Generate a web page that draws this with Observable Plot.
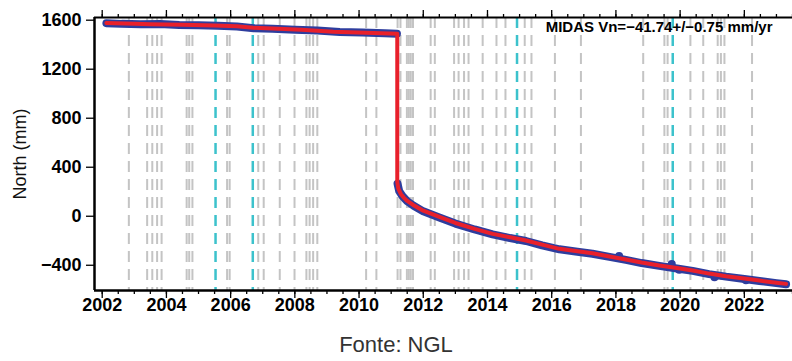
<!DOCTYPE html>
<html>
<head>
<meta charset="utf-8">
<script src="https://cdn.jsdelivr.net/npm/d3@7"></script>
<script src="https://cdn.jsdelivr.net/npm/@observablehq/plot@0.6"></script>
<style>
  html, body { margin: 0; padding: 0; background: #fff; }
  #chart { width: 792px; }
  #caption { margin-top: 14px; text-align: center; font-family: "Liberation Sans", Arial, sans-serif; font-size: 22px; color: #333; line-height: normal; width: 792px; }
</style>
</head>
<body>
<div id="chart"></div>
<div id="caption">Fonte: NGL</div>
<script>
// ---- data ----
const xDomain = [2001.76, 2023.5];
const yDomain = [-606, 1622];
const yTicks = [-400, 0, 400, 800, 1200, 1600];
const xMajorTicks = [2002, 2004, 2006, 2008, 2010, 2012, 2014, 2016, 2018, 2020, 2022];
const xMinorTicks = d3.range(2002, 2023.6, 0.5);

const yLabel = "North (mm)";
const midasLabel = "MIDAS Vn=\u221241.74+/\u22120.75 mm/yr";
const captionText = "Fonte: NGL";

// gray dashed lines (equipment / earthquake events)
const grayEvents = [2002.83, 2003.40, 2003.56, 2003.71, 2003.85, 2004.63, 2004.71, 2004.81,
  2005.89, 2005.97, 2006.86, 2007.03, 2007.53, 2007.99, 2008.36, 2008.46, 2008.57, 2008.70,
  2010.22, 2010.54, 2011.20, 2011.29, 2011.49, 2011.55, 2011.61, 2011.68, 2012.23, 2012.36,
  2012.96, 2013.10, 2013.27, 2013.41, 2013.85, 2014.28, 2014.56, 2015.16, 2015.37, 2016.10,
  2016.91, 2018.85, 2019.51, 2019.61, 2020.32, 2020.72, 2021.17, 2021.27, 2021.38, 2022.24];
// cyan dashed lines
const cyanEvents = [2005.53, 2006.69, 2014.92, 2019.77];

// observed daily positions (blue) - before and after the jump
const obsPreT = [2002.13, 2002.6, 2003.2, 2003.8, 2004.4, 2005.0, 2005.6, 2006.2, 2006.72, 2007.3, 2008.0, 2008.7, 2009.4, 2010.1, 2010.8, 2011.18];
const obsPreN = [1576, 1570, 1566, 1569, 1561, 1558, 1554, 1548, 1535, 1530, 1522, 1515, 1503, 1500, 1494, 1490];
const obsPostT = [2011.2, 2011.25, 2011.35, 2011.5, 2011.7, 2012.0, 2012.5, 2013.0, 2013.6, 2014.16, 2014.7, 2015.2, 2015.7, 2016.24, 2016.8, 2017.27, 2017.8, 2018.31, 2018.8, 2019.35, 2019.9, 2020.39, 2020.9, 2021.43, 2022.0, 2022.47, 2023.0, 2023.3];
const obsPostN = [265, 205, 165, 122, 86, 40, -10, -60, -108, -148, -178, -202, -238, -270, -290, -306, -332, -356, -382, -405, -426, -446, -472, -493, -512, -528, -546, -555];
const outT = [2018.1, 2019.74, 2019.97, 2021.07, 2022.05];
const outN = [-325, -389, -437, -497, -522];

// MIDAS / model fit (red)
const fitT = [2002.13, 2003.0, 2003.5, 2004.5, 2005.5, 2006.2, 2006.7, 2007.5, 2008.2, 2009.2, 2010.2, 2011.19, 2011.19, 2011.22, 2011.3, 2011.4, 2011.5, 2011.7, 2012.0, 2012.5, 2013.0, 2013.6, 2014.16, 2014.7, 2015.2, 2015.7, 2016.24, 2016.8, 2017.27, 2017.8, 2018.31, 2018.8, 2019.35, 2019.9, 2020.39, 2020.9, 2021.43, 2022.0, 2022.47, 2023.0, 2023.3];
const fitN = [1578, 1572, 1567, 1562, 1557, 1550, 1538, 1530, 1522, 1505, 1498, 1490, 280, 228, 182, 150, 125, 90, 45, -5, -55, -103, -144, -172, -198, -232, -266, -285, -302, -328, -353, -378, -402, -422, -443, -468, -490, -508, -525, -543, -552];

// ---- build tables ----
const zip = (T, N) => T.map((t, i) => ({t, n: N[i]}));
const obsPre = zip(obsPreT, obsPreN);
const obsPost = zip(obsPostT, obsPostN);
const outliers = zip(outT, outN);
const fit = zip(fitT, fitN);

const font = "'Liberation Sans', Arial, Helvetica, sans-serif";
const fmt = d3.format("d");
const blue = "#2e3d9e";
const red = "#e8202b";

const chart = Plot.plot({
  width: 792,
  height: 318,
  marginLeft: 94,
  marginRight: 0,
  marginTop: 17,
  marginBottom: 28,
  x: {domain: xDomain},
  y: {domain: yDomain},
  style: {fontFamily: font, background: "white", color: "black", overflow: "visible"},
  marks: [
    Plot.ruleX(grayEvents, {stroke: "#c4c4c4", strokeWidth: 2, strokeDasharray: "11,7"}),
    Plot.ruleX(cyanEvents, {stroke: "#3cc2cc", strokeWidth: 2.5, strokeDasharray: "11,7"}),
    Plot.line(obsPre, {x: "t", y: "n", stroke: blue, strokeWidth: 8}),
    Plot.line(obsPost, {x: "t", y: "n", stroke: blue, strokeWidth: 8}),
    Plot.dot(outliers, {x: "t", y: "n", r: 4, fill: blue}),
    Plot.line(fit, {x: "t", y: "n", stroke: red, strokeWidth: 4}),
    // frame
    Plot.ruleY([yDomain[0]], {stroke: "black", strokeWidth: 2.5}),
    Plot.ruleY([yDomain[1]], {stroke: "black", strokeWidth: 2}),
    Plot.ruleX([xDomain[0]], {stroke: "black", strokeWidth: 2.5}),
    // axes
    Plot.axisX({ticks: xMinorTicks, tickSize: 4, tickFormat: () => "", label: null, strokeWidth: 1.3}),
    Plot.axisX({ticks: xMajorTicks, tickSize: 8, tickPadding: 0, tickFormat: fmt, label: null,
      fontSize: 18, fontWeight: "bold", strokeWidth: 1.3}),
    Plot.axisX({anchor: "top", ticks: xMinorTicks, tickSize: 4, tickFormat: () => "", label: null, strokeWidth: 1.3}),
    Plot.axisX({anchor: "top", ticks: xMajorTicks, tickSize: 8, tickFormat: () => "", label: null, strokeWidth: 1.3}),
    Plot.axisY({ticks: yTicks, tickSize: 8, tickPadding: 5, tickFormat: fmt, label: null,
      fontSize: 18, fontWeight: "bold", strokeWidth: 1.3}),
    // texts
    Plot.text([midasLabel], {frameAnchor: "top-right", text: d => d, textAnchor: "end",
      dx: -20, dy: 4, fontSize: 15, fontWeight: "bold", fill: "black"}),
    Plot.text([yLabel], {frameAnchor: "left", text: d => d, textAnchor: "middle", lineAnchor: "middle",
      rotate: -90, dx: -74, fontSize: 18, fill: "#111"})
  ]
});
document.getElementById("chart").appendChild(chart);
document.getElementById("caption").textContent = captionText;
</script>
</body>
</html>
